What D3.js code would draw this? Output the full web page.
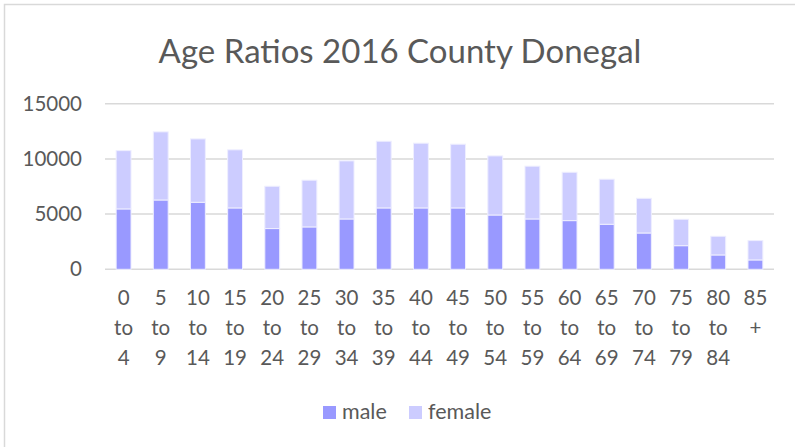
<!DOCTYPE html>
<html>
<head>
<meta charset="utf-8">
<script src="https://cdn.jsdelivr.net/npm/d3@7"></script>
<style>
  html, body { margin: 0; padding: 0; background: #fff; }
  svg { display: block; }
  text { font-family: Lato, "Open Sans", sans-serif; fill: #595959; }
</style>
</head>
<body>
<svg id="chart" width="795" height="447"></svg>
<script>
const categories = ["0 to 4","5 to 9","10 to 14","15 to 19","20 to 24","25 to 29","30 to 34","35 to 39","40 to 44","45 to 49","50 to 54","55 to 59","60 to 64","65 to 69","70 to 74","75 to 79","80 to 84","85 +"];
const male   = [5470, 6280, 6070, 5560, 3690, 3840, 4560, 5560, 5560, 5560, 4920, 4560, 4410, 4080, 3290, 2140, 1300, 850];
const female = [5280, 6170, 5740, 5260, 3830, 4230, 5260, 6040, 5860, 5770, 5350, 4780, 4380, 4080, 3140, 2390, 1690, 1750];
const seriesNames = ["male", "female"];
const seriesColors = ["#9999ff", "#ccccff"];
const yTicks = [0, 5000, 10000, 15000];
const title = "Age Ratios 2016 County Donegal";

(function () {
const svg = d3.select("#chart");
const W = 795, H = 447;

// chart border
svg.append("rect").attr("x", 4.5).attr("y", 4.5).attr("width", W + 10).attr("height", H + 10)
  .attr("fill", "#fff").attr("stroke", "#d9d9d9").attr("stroke-width", 1.5);

const pLeft = 105, pRight = 774, pTop = 103.7, pBottom = 269.3;

const x = d3.scaleBand().domain(categories).range([pLeft, pRight]).paddingInner(0.6).paddingOuter(0.3);
const y = d3.scaleLinear().domain([0, 15000]).range([pBottom, pTop]);

// gridlines
svg.append("g").selectAll("line").data(yTicks).join("line")
  .attr("x1", pLeft).attr("x2", pRight)
  .attr("y1", d => y(d)).attr("y2", d => y(d))
  .attr("stroke", "#d9d9d9").attr("stroke-width", 1.5);

// y axis labels
const yAxis = d3.axisLeft(y).tickValues(yTicks).tickSize(0).tickPadding(0).tickFormat(d3.format("d"));
const yg = svg.append("g").attr("transform", `translate(${82},0)`).call(yAxis);
yg.select(".domain").remove();
yg.selectAll("text").attr("font-size", 20.5).attr("fill", "#595959")
  .style("font-family", "Lato, 'Open Sans', sans-serif");

// stacked bars
const rows = categories.map((c, i) => ({ cat: c, male: male[i], female: female[i] }));
const stack = d3.stack().keys(seriesNames)(rows);
svg.append("g").selectAll("g").data(stack).join("g")
  .attr("fill", (d, i) => seriesColors[i])
  .selectAll("rect").data(d => d).join("rect")
  .attr("x", d => x(d.data.cat))
  .attr("width", x.bandwidth())
  .attr("y", d => y(d[1]))
  .attr("height", d => y(d[0]) - y(d[1]))
  .attr("stroke", "#eeeeff").attr("stroke-width", 1);

// x labels (three lines)
const xg = svg.append("g");
categories.forEach(c => {
  const parts = c.split(" ");
  const t = xg.append("text").attr("text-anchor", "middle").attr("font-size", 20.5);
  parts.forEach((p, j) => {
    t.append("tspan").attr("x", x(c) + x.bandwidth() / 2).attr("y", 305 + j * 30).text(p);
  });
});

// title
svg.append("text").attr("x", 400).attr("y", 63).attr("text-anchor", "middle")
  .attr("font-size", 33).text(title);

// legend
const legend = svg.append("g");
const lx = [323, 409];
seriesNames.forEach((s, i) => {
  legend.append("rect").attr("x", lx[i]).attr("y", 406).attr("width", 13).attr("height", 13)
    .attr("fill", seriesColors[i]);
  legend.append("text").attr("x", lx[i] + 19).attr("y", 419).attr("font-size", 21.5).text(s);
});
})();
</script>
</body>
</html>
